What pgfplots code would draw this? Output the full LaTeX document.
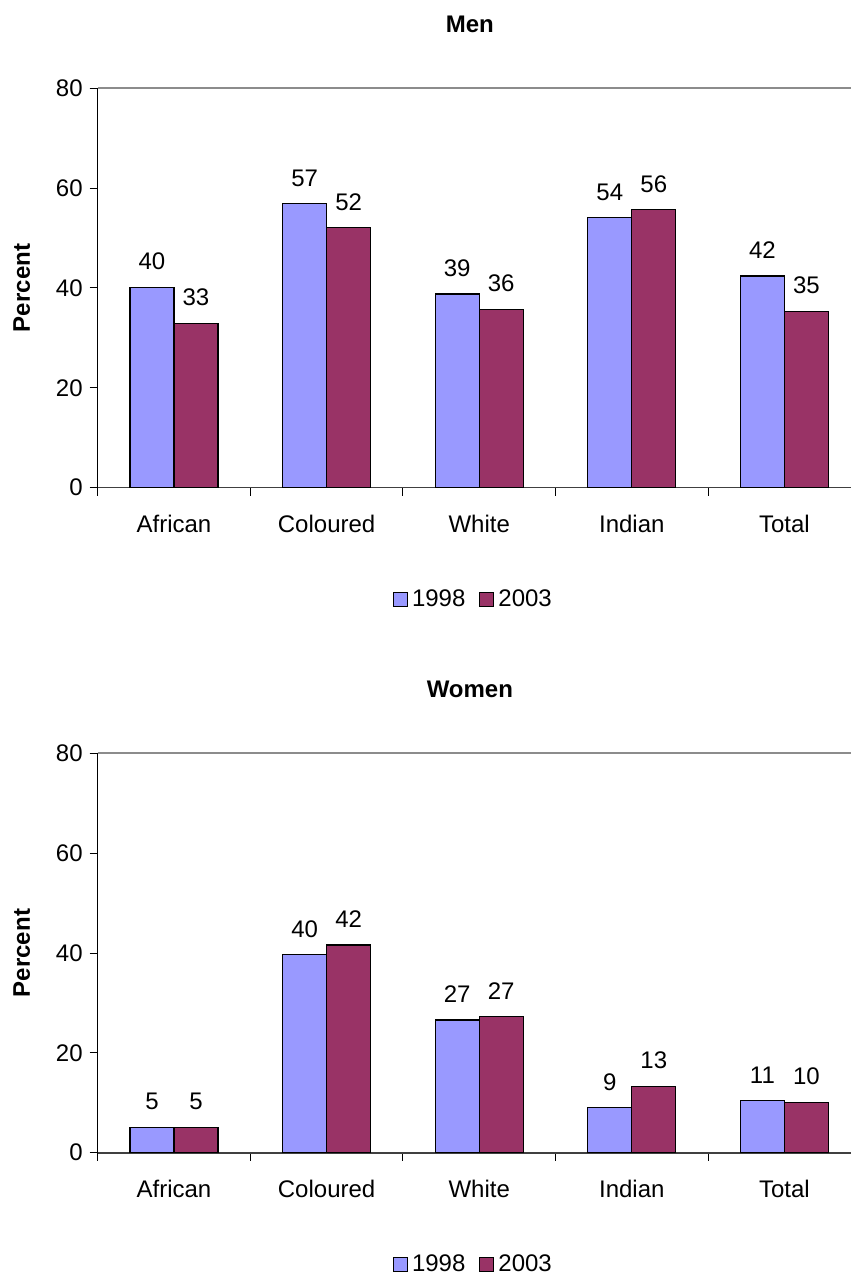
\documentclass[border=0pt]{standalone}
\usepackage{pgfplots}
\pgfplotsset{compat=1.18}
\usepackage{pgfplotstable}
\usepackage{fontspec}
\setmainfont{Liberation Sans}
\definecolor{cA}{HTML}{9999FF}
\definecolor{cB}{HTML}{993366}
\newcommand\lbl{\fontsize{12}{14}\selectfont}

\pgfplotstableread{
x y lab
0 40.1 40
1 56.9 57
2 38.8 39
3 54.1 54
4 42.4 42
}\menA
\pgfplotstableread{
x y lab
0 32.9 33
1 52.1 52
2 35.75 36
3 55.65 56
4 35.3 35
}\menB
\pgfplotstableread{
x y lab
0 5.1 5
1 39.7 40
2 26.6 27
3 9.0 9
4 10.5 11
}\womA
\pgfplotstableread{
x y lab
0 5.1 5
1 41.6 42
2 27.3 27
3 13.3 13
4 10.1 10
}\womB

\pgfplotsset{
  panel/.style={
    scale only axis, width=376.7pt, height=199.7pt,
    ybar=0pt, bar width=22pt,
    xmin=-0.5, xmax=4.437, ymin=0, ymax=80,
    enlarge x limits=false, enlarge y limits=false,
    axis x line*=bottom, axis y line*=left,
    x axis line style={draw=black!75, line width=0.8pt},
    y axis line style={draw=black, line width=0.6pt},
    ytick={0,20,40,60,80},
    xtick={0,1,2,3,4},
    xticklabels={African,Coloured,White,Indian,Total},
    major x tick style={draw=none},
    minor xtick={-0.5,0.5,1.5,2.5,3.5},
    minor x tick style={draw=black, line width=0.5pt},
    y tick style={draw=black, line width=0.5pt},
    tick align=outside, major tick length=4pt, minor tick length=4pt,
    /pgf/number format/assume math mode=true,
    tick label style={font=\lbl},
    xticklabel style={yshift=-6pt},
    extra y ticks={80}, extra y tick labels={},
    extra y tick style={grid=major, major grid style={draw=black!45, line width=0.9pt}},
    title style={font=\lbl\bfseries, at={(rel axis cs:0.494,1.13)}, anchor=center},
    every axis y label/.style={at={(rel axis cs:-0.1008,0.5)}, rotate=90, anchor=center, font=\lbl\bfseries},
    ylabel={Percent},
    nodes near coords, point meta=explicit symbolic,
    every node near coord/.append style={font=\lbl, anchor=south, yshift=5pt, text=black},
    legend columns=2,
    legend style={at={(rel axis cs:0.5,-0.28)}, anchor=center, draw=none, font=\lbl,
      /tikz/every even column/.append style={column sep=5pt}},
    legend image code/.code={\draw[#1, draw=black, line width=0.5pt] (-1.5pt,-3.5pt) rectangle (5.5pt,3.5pt);},
  },
  barA/.style={fill=cA, draw=black, line width=0.6pt},
  barB/.style={fill=cB, draw=black, line width=0.6pt},
}

\begin{document}
\begin{tikzpicture}
\useasboundingbox (-48.85pt,-395.15pt) rectangle (376.65pt,243.85pt);
\begin{axis}[panel, title={Men}, at={(0pt,0pt)}, anchor=south west]
\addplot[barA] table[x=x, y=y, meta=lab] {\menA};
\addplot[barB] table[x=x, y=y, meta=lab] {\menB};
\legend{1998,2003}
\end{axis}
\begin{axis}[panel, title={Women}, at={(0pt,-332.5pt)}, anchor=south west]
\addplot[barA] table[x=x, y=y, meta=lab] {\womA};
\addplot[barB] table[x=x, y=y, meta=lab] {\womB};
\legend{1998,2003}
\end{axis}
\end{tikzpicture}
\end{document}
